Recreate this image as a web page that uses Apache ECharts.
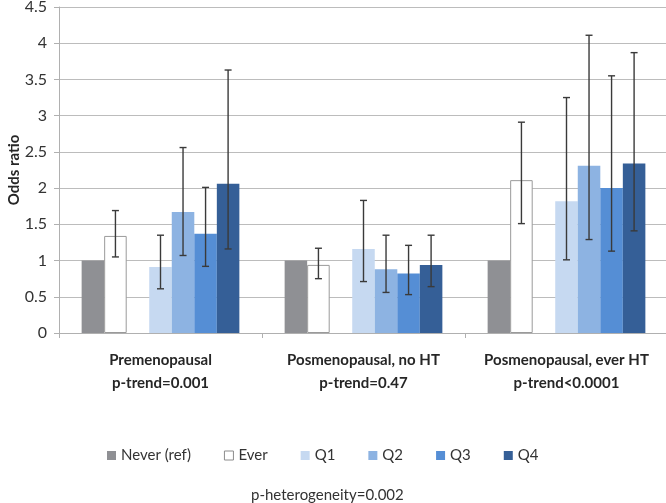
<!DOCTYPE html>
<html>
<head>
<meta charset="utf-8">
<script src="https://cdn.jsdelivr.net/npm/echarts@6/dist/echarts.min.js"></script>
<style>html,body{margin:0;padding:0;background:#fff}#c{width:666px;height:503px}</style>
</head>
<body>
<div id="c"></div>
<script>
var categories = ['Premenopausal\np-trend=0.001', 'Posmenopausal, no HT\np-trend=0.47', 'Posmenopausal, ever HT\np-trend<0.0001'];
var yTicks = [0, 0.5, 1, 1.5, 2, 2.5, 3, 3.5, 4, 4.5];
var neverVals = [1, 1, 1];
var everVals = [1.34, 0.94, 2.11];
var everLo = [1.05, 0.75, 1.51];
var everHi = [1.69, 1.17, 2.91];
var q1Vals = [0.91, 1.16, 1.82];
var q1Lo = [0.61, 0.71, 1.01];
var q1Hi = [1.35, 1.83, 3.25];
var q2Vals = [1.67, 0.88, 2.31];
var q2Lo = [1.07, 0.56, 1.29];
var q2Hi = [2.56, 1.35, 4.11];
var q3Vals = [1.37, 0.82, 2.00];
var q3Lo = [0.92, 0.53, 1.13];
var q3Hi = [2.01, 1.21, 3.55];
var q4Vals = [2.06, 0.94, 2.34];
var q4Lo = [1.16, 0.64, 1.41];
var q4Hi = [3.63, 1.35, 3.87];
var legendNames = ['Never (ref)', 'Ever', 'Q1', 'Q2', 'Q3', 'Q4'];

var FONT = 'Lato';
var SLOTS = 7, GAPFRAC = 0.223;
var chart = echarts.init(document.getElementById('c'), null, {renderer: 'canvas'});

function barSeries(name, data, color, border) {
  return {
    name: name, type: 'bar', data: data, barGap: '0%', barCategoryGap: (GAPFRAC * 100) + '%',
    itemStyle: {color: color, borderColor: border || color, borderWidth: border ? 1 : 0},
    emphasis: {disabled: true}, z: 2
  };
}
var errSets = [
  {slot: 1, lo: everLo, hi: everHi},
  {slot: 3, lo: q1Lo, hi: q1Hi},
  {slot: 4, lo: q2Lo, hi: q2Hi},
  {slot: 5, lo: q3Lo, hi: q3Hi},
  {slot: 6, lo: q4Lo, hi: q4Hi}
];
var errData = [];
errSets.forEach(function (s) {
  for (var i = 0; i < categories.length; i++) errData.push([i, s.lo[i], s.hi[i], s.slot]);
});

var option = {
  animation: false,
  textStyle: {fontFamily: FONT},
  grid: {left: 59, right: -2, top: 7, bottom: 170, containLabel: false, outerBoundsMode: 'none'},
  legend: {
    data: legendNames.map(function (n) { return {name: n, itemStyle: n === 'Ever' ? {color: '#fff', borderColor: '#8c8c8c', borderWidth: 1} : undefined}; }),
    bottom: 35, left: 102, itemWidth: 9, itemHeight: 9, itemGap: 33,
    icon: 'rect',
    textStyle: {fontFamily: FONT, fontSize: 15, color: '#333'}
  },
  title: {
    text: 'p-heterogeneity=0.002', left: 246, top: 483,
    textStyle: {fontFamily: FONT, fontSize: 15, fontWeight: 'normal', color: '#333'}
  },
  xAxis: {
    type: 'category', data: categories,
    axisLine: {lineStyle: {color: '#b0b0b0', width: 1}},
    axisTick: {show: true, length: 5, lineStyle: {color: '#b0b0b0'}},
    axisLabel: {margin: 16, fontFamily: FONT, fontSize: 15, fontWeight: 'bold', color: '#262626', lineHeight: 23, interval: 0}
  },
  yAxis: {
    type: 'value', min: 0, max: 4.5, interval: 0.5,
    name: 'Odds ratio', nameLocation: 'middle', nameGap: 37, nameRotate: 90, nameMoveOverlap: false,
    nameTextStyle: {fontFamily: FONT, fontSize: 15, fontWeight: 'bold', color: '#262626'},
    axisLine: {show: true, lineStyle: {color: '#b0b0b0'}},
    axisTick: {show: true, length: 5, lineStyle: {color: '#b0b0b0'}},
    axisLabel: {fontFamily: FONT, fontSize: 16, color: '#333', margin: 12,
      formatter: function (v) { return yTicks.indexOf(v) >= 0 ? String(v) : ''; }},
    splitLine: {lineStyle: {color: '#bcbcbc', width: 1.2}}
  },
  series: [
    barSeries('Never (ref)', neverVals, '#8f9094'),
    barSeries('Ever', everVals, '#ffffff', '#9a9a9a'),
    {name: 'spacer', type: 'bar', data: categories.map(function () { return null; }), barGap: '0%', barCategoryGap: (GAPFRAC * 100) + '%', legendHoverLink: false},
    barSeries('Q1', q1Vals, '#c6d9f1'),
    barSeries('Q2', q2Vals, '#8db3e2'),
    barSeries('Q3', q3Vals, '#558ed5'),
    barSeries('Q4', q4Vals, '#355f97'),
    {
      type: 'custom', name: 'err', data: errData, z: 5, silent: true,
      encode: {x: 0, y: [1, 2]},
      renderItem: function (params, api) {
        var cat = api.value(0), lo = api.value(1), hi = api.value(2), slot = api.value(3);
        var catW = api.size([1, 0])[0];
        var slotW = catW * (1 - GAPFRAC) / SLOTS;
        var c = api.coord([cat, 0]);
        var x = c[0] + (slot - (SLOTS - 1) / 2) * slotW;
        var yLo = api.coord([cat, lo])[1], yHi = api.coord([cat, hi])[1];
        var cap = 3.5;
        var st = {stroke: '#3a3a3a', lineWidth: 1.4};
        return {type: 'group', children: [
          {type: 'line', shape: {x1: x, y1: yLo, x2: x, y2: yHi}, style: st},
          {type: 'line', shape: {x1: x - cap, y1: yHi, x2: x + cap, y2: yHi}, style: st},
          {type: 'line', shape: {x1: x - cap, y1: yLo, x2: x + cap, y2: yLo}, style: st}
        ]};
      }
    }
  ]
};
chart.setOption(option);
</script>
</body>
</html>
